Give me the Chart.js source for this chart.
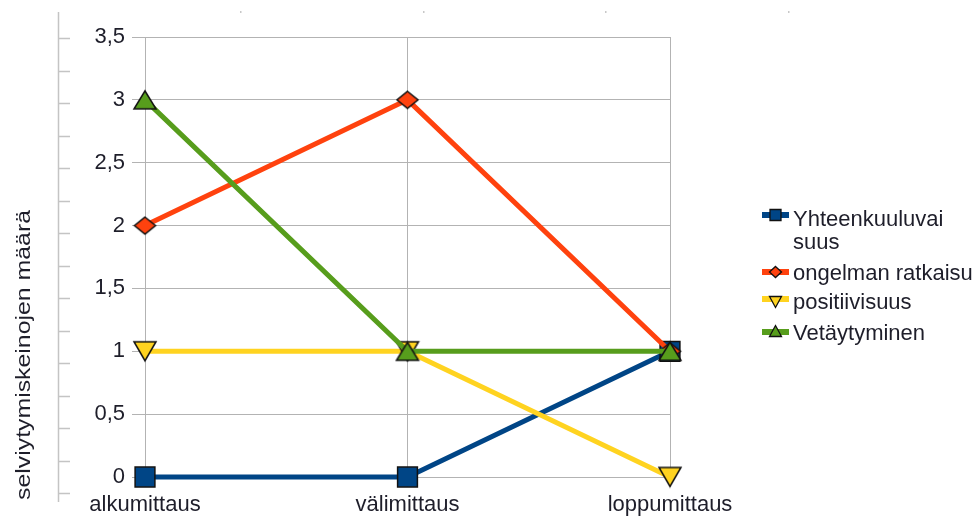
<!DOCTYPE html>
<html><head><meta charset="utf-8">
<script src="https://cdn.jsdelivr.net/npm/chart.js@4/dist/chart.umd.min.js"></script>
<style>html,body{margin:0;padding:0;background:#fff}#wrap{width:979px;height:519px;position:relative}</style>
</head><body><div id="wrap"><canvas id="c" width="979" height="519"></canvas></div>
<script>
const categories = ['alkumittaus', 'välimittaus', 'loppumittaus'];
const yhteenkuuluvaisuus = [0, 0, 1];
const ongelmanRatkaisu = [2, 3, 1];
const positiivisuus = [1, 1, 0];
const vetaytyminen = [3, 1, 1];
const seriesLabels = [['Yhteenkuuluvai', 'suus'], ['ongelman ratkaisu'], ['positiivisuus'], ['Vetäytyminen']];
const yTickLabels = ['0', '0,5', '1', '1,5', '2', '2,5', '3', '3,5'];
const yTitle = 'selviytymiskeinojen määrä';

const FONT = '"Liberation Sans", Arial, sans-serif';
const TXT = '#1e1e2a';
const GRID = '#b3b3b3';

function shapePath(g, kind, cx, cy, w, h) {
  g.beginPath();
  if (kind === 'rect') {
    g.rect(cx - w / 2, cy - h / 2, w, h);
  } else if (kind === 'diamond') {
    g.moveTo(cx, cy - h / 2); g.lineTo(cx + w / 2, cy); g.lineTo(cx, cy + h / 2); g.lineTo(cx - w / 2, cy); g.closePath();
  } else if (kind === 'down') {
    g.moveTo(cx - w / 2, cy - h / 2); g.lineTo(cx + w / 2, cy - h / 2); g.lineTo(cx, cy + h / 2); g.closePath();
  } else {
    g.moveTo(cx - w / 2, cy + h / 2); g.lineTo(cx + w / 2, cy + h / 2); g.lineTo(cx, cy - h / 2); g.closePath();
  }
}

function markImg(color, kind, w, h) {
  const c = document.createElement('canvas');
  c.width = w + 4; c.height = h + 4;
  const g = c.getContext('2d');
  g.fillStyle = color; g.strokeStyle = '#111'; g.lineWidth = 1.5;
  shapePath(g, kind, c.width / 2, c.height / 2, w, h);
  g.fill(); g.stroke();
  return c;
}

function mk(label, data, color, style, radius, order) {
  return {
    label: label.join(''), data, borderColor: color, backgroundColor: color,
    borderWidth: 5, pointStyle: style, pointRadius: radius, pointHoverRadius: radius,
    pointBorderColor: '#111', pointBackgroundColor: color,
    pointBorderWidth: 1.5, tension: 0, order, clip: false
  };
}

const datasets = [
  mk(seriesLabels[0], yhteenkuuluvaisuus, '#004586', 'rect', 14, 3),
  mk(seriesLabels[1], ongelmanRatkaisu, '#ff420e', markImg('#ff420e', 'diamond', 21, 17), 10, 2),
  mk(seriesLabels[2], positiivisuus, '#ffd320', markImg('#ffd320', 'down', 22, 19), 12, 1),
  mk(seriesLabels[3], vetaytyminen, '#579d1c', markImg('#579d1c', 'up', 22, 18), 12, 0)
];
const legendKinds = ['rect', 'diamond', 'down', 'up'];

const extras = {
  id: 'extras',
  beforeDraw(chart) {
    const ctx = chart.ctx;
    ctx.save();
    ctx.strokeStyle = '#c4c4c4';
    ctx.lineWidth = 1.5;
    ctx.beginPath();
    ctx.moveTo(58.5, 12); ctx.lineTo(58.5, 502);
    for (let i = 0; i < 15; i++) {
      const y = Math.round(38 + i * 32.5) + 0.5;
      ctx.moveTo(58.5, y); ctx.lineTo(70, y);
    }
    ctx.stroke();
    ctx.fillStyle = '#c8c8c8';
    [240, 423, 605, 788].forEach(x => ctx.fillRect(x, 11, 1.5, 2));
    ctx.restore();
  },
  afterDraw(chart) {
    const ctx = chart.ctx;
    ctx.save();
    ctx.font = '21px ' + FONT;
    const tw = ctx.measureText(yTitle).width;
    ctx.translate(24, 355);
    ctx.rotate(-Math.PI / 2);
    ctx.scale(290 / tw, 1);
    ctx.fillStyle = TXT;
    ctx.textAlign = 'center';
    ctx.textBaseline = 'middle';
    ctx.fillText(yTitle, 0, 0);
    ctx.restore();
    // legend
    ctx.save();
    ctx.font = '22px ' + FONT;
    ctx.textBaseline = 'alphabetic';
    ctx.textAlign = 'left';
    const lineY = [215, 272, 299, 332];
    const markY = [215, 272, 302, 331];
    const baseY = [226, 280, 309, 340];
    chart.data.datasets.forEach((ds, i) => {
      ctx.strokeStyle = ds.borderColor;
      ctx.lineWidth = 6;
      ctx.beginPath(); ctx.moveTo(762, lineY[i]); ctx.lineTo(789, lineY[i]); ctx.stroke();
      ctx.fillStyle = ds.borderColor;
      ctx.strokeStyle = '#111';
      ctx.lineWidth = 1.3;
      const k = legendKinds[i];
      const w = k === 'rect' ? 11 : 12, h = k === 'rect' ? 11 : 11;
      shapePath(ctx, k, 775.5, markY[i], w, h);
      ctx.fill(); ctx.stroke();
      ctx.fillStyle = TXT;
      seriesLabels[i].forEach((t, j) => ctx.fillText(t, 793, baseY[i] + j * 23));
    });
    ctx.restore();
  }
};

new Chart(document.getElementById('c'), {
  type: 'line',
  data: { labels: categories, datasets },
  options: {
    responsive: false, animation: false, devicePixelRatio: 1,
    layout: { padding: { left: 0, top: 37, right: 309, bottom: 0 } },
    plugins: { legend: { display: false }, tooltip: { enabled: false } },
    scales: {
      x: {
        type: 'category', offset: false,
        grid: { color: GRID, lineWidth: 1, offset: false, tickLength: 10, drawTicks: true },
        border: { color: GRID },
        ticks: { font: { size: 22, family: FONT }, color: TXT, padding: 5, maxRotation: 0, autoSkip: false },
        afterFit(s) { s.height = 42; }
      },
      y: {
        min: 0, max: 3.5,
        grid: { color: GRID, lineWidth: 1, tickLength: 13 },
        border: { color: GRID },
        ticks: { stepSize: 0.5, padding: 7, font: { size: 22, family: FONT }, color: TXT,
          callback: (v, i) => yTickLabels[i] },
        afterFit(s) { s.width = 145; }
      }
    }
  },
  plugins: [extras]
});
</script></body></html>
